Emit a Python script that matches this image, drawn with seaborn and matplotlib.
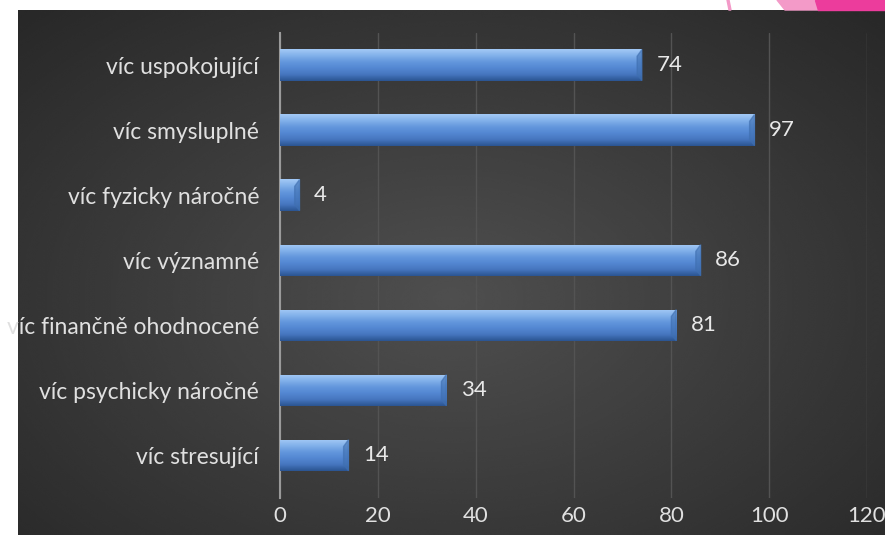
import numpy as np
import pandas as pd
import matplotlib.pyplot as plt
import matplotlib.patches as mpatches
from matplotlib.colors import LinearSegmentedColormap
import seaborn as sns

# data
categories = ["víc uspokojující", "víc smysluplné", "víc fyzicky náročné",
              "víc významné", "víc finančně ohodnocené", "víc psychicky náročné",
              "víc stresující"]
values = [74, 97, 4, 86, 81, 34, 14]
x_ticks = [0, 20, 40, 60, 80, 100, 120]

df = pd.DataFrame({"kategorie": categories, "pocet": values})

sns.set_style("dark")
plt.rcParams['font.family'] = ['Lato', 'DejaVu Sans']

fig = plt.figure(figsize=(8.85, 5.35), dpi=100, facecolor="white")

# tmave pozadi s radialnim prechodem
bg = fig.add_axes([18 / 885, 0, 1 - 18 / 885, 525 / 535])
yy, xx = np.mgrid[0:1:300j, 0:1:500j]
r = np.sqrt(((xx - 0.5) / 0.75) ** 2 + ((yy - 0.55) / 0.8) ** 2)
shade = np.clip(0.31 - 0.16 * r, 0.16, 0.31)
bg.imshow(shade, cmap="gray", vmin=0, vmax=1, aspect="auto",
          extent=[0, 1, 0, 1], interpolation="bicubic")
bg.set_axis_off()

# ruzova dekorace vpravo nahore
fig.patches.append(mpatches.Polygon([[777 / 885, 1], [815 / 885, 1], [818 / 885, 525 / 535],
                                     [785 / 885, 525 / 535]], closed=True,
                                    transform=fig.transFigure, color="#f39ac8", zorder=0))
fig.patches.append(mpatches.Polygon([[815 / 885, 1], [1, 1], [1, 525 / 535],
                                     [818 / 885, 525 / 535]], closed=True,
                                    transform=fig.transFigure, color="#ec3c9c", zorder=0))
fig.patches.append(mpatches.Polygon([[727 / 885, 1], [729 / 885, 1], [731 / 885, 525 / 535],
                                     [729 / 885, 525 / 535]], closed=True,
                                    transform=fig.transFigure, color="#f39ac8", zorder=0))

ax = fig.add_axes([280 / 885, 37.5 / 535, (867 - 280) / 885, 465 / 535])
ax.patch.set_alpha(0)
sns.barplot(data=df, y="kategorie", x="pocet", orient="h", color="#5b8fd6",
            width=0.48, ax=ax, zorder=3, edgecolor="none")

# leskly prechod na sloupcich
grad = np.linspace(0, 1, 64).reshape(-1, 1)
bar_cmap = LinearSegmentedColormap.from_list(
    "bar", ["#a3c9f6", "#82b1ea", "#6397dd", "#5387d2", "#4676bf", "#2b5592"])
for p in ax.patches:
    x0, y0 = p.get_x(), p.get_y()
    w, h = p.get_width(), p.get_height()
    im = ax.imshow(grad, cmap=bar_cmap, aspect="auto", zorder=4,
                   extent=[x0, x0 + w, y0 + h, y0], interpolation="bicubic")
    im.set_clip_path(p)
    # zkoseni na konci
    bev = min(1.0, w * 0.3)
    ax.add_patch(mpatches.Polygon([[x0 + w - bev, y0 + h * 0.22], [x0 + w, y0],
                                   [x0 + w, y0 + h], [x0 + w - bev, y0 + h * 0.8]],
                                  closed=True, color="#3f6fb0", alpha=0.6, zorder=5))
    ax.text(x0 + w + 3.0, y0 + h / 2, str(int(w)), va="center", ha="left",
            color="#e8e8e8", fontsize=16, zorder=6)

ax.set_xlim(0, 120)
ax.set_ylim(6.65, -0.5)
ax.set_xticks(x_ticks)
ax.grid(axis="x", color="#535353", linewidth=1, zorder=1)
ax.grid(axis="y", visible=False)
for s in ["top", "right", "bottom"]:
    ax.spines[s].set_visible(False)
ax.spines["left"].set_color("#9a9a9a")
ax.spines["left"].set_linewidth(1.5)
ax.tick_params(axis="x", colors="#e0e0e0", labelsize=16, length=0, pad=6)
ax.tick_params(axis="y", colors="#e0e0e0", labelsize=16.5, length=0, pad=15)
ax.set_xlabel("")
ax.set_ylabel("")

fig.savefig("out.png", dpi=100, facecolor="white")
